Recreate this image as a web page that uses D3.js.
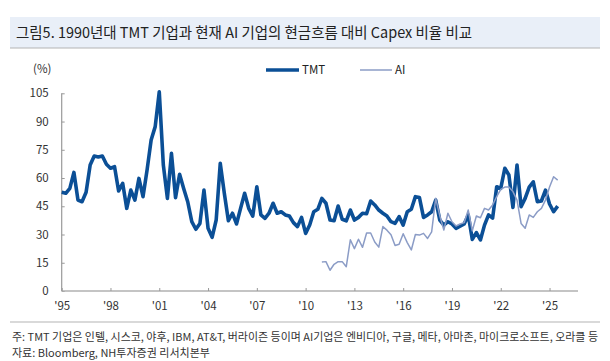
<!DOCTYPE html>
<html><head><meta charset="utf-8">
<script src="https://cdn.jsdelivr.net/npm/d3@7"></script>
<style>
body{margin:0;background:#fff;}
svg{display:block;}
</style></head>
<body>
<svg id="c" width="610" height="361"></svg>
<script>
const title = "그림5. 1990년대 TMT 기업과 현재 AI 기업의 현금흐름 대비 Capex 비율 비교";
const unitLabel = "(%)";
const seriesNames = ["TMT", "AI"];
const yTicks = [0, 15, 30, 45, 60, 75, 90, 105];
const xTickLabels = ["'95","'98","'01","'04","'07","'10","'13","'16","'19","'22","'25"];
const tmtStart = "1995Q1";
const aiStart = "2011Q1";
// quarterly values, TMT 1995Q1 - 2025Q3
const tmtValues = [
 52.4, 51.9, 54.5, 63.0,
 48.3, 47.4, 52.4, 66.9,
 71.7, 71.2, 71.7, 67.3,
 65.2, 66.0, 53.1, 57.2,
 43.9, 53.6, 48.3, 59.8,
 50.1, 64.3, 80.2, 87.3,
 105.8, 66.9, 49.2, 73.1,
 49.6, 62.0, 54.5, 47.4,
 36.8, 32.8, 35.9, 53.6,
 33.3, 28.5, 37.7, 67.8,
 51.9, 37.3, 41.3, 35.6,
 43.9, 51.9, 43.9, 39.8,
 55.4, 40.4, 38.6, 41.3,
 46.6, 41.3, 42.1, 40.4,
 39.8, 36.3, 34.2, 39.1,
 30.6, 35.1, 42.1, 43.4,
 49.2, 46.6, 37.7, 37.3,
 45.1, 38.1, 37.3, 43.0,
 37.7, 39.1, 41.3, 41.0,
 47.8, 45.7, 43.0, 41.3,
 39.8, 36.8, 35.9, 39.5,
 35.0, 42.1, 43.4, 50.1,
 49.6, 39.1, 40.4, 42.1,
 48.3, 37.7, 35.0, 36.8,
 35.6, 33.3, 34.4, 35.6,
 40.4, 27.4, 31.0, 27.1,
 35.0, 40.4, 38.7, 55.4,
 54.5, 65.2, 61.6, 44.4,
 66.9, 44.8, 49.2, 55.2,
 58.0, 47.4, 47.8, 53.6,
 46.2, 42.1, 45.1
];
// quarterly values, AI 2011Q1 - 2025Q3
const aiValues = [
 15.4, 15.6, 11.0, 14.2,
 15.6, 15.6, 12.9, 27.2,
 22.5, 27.5, 23.2, 30.8,
 30.8, 26.0, 23.3, 34.2,
 32.3, 29.9, 24.2, 24.8,
 30.4, 25.7, 21.8, 30.0,
 29.7, 30.6, 27.9, 31.4,
 49.2, 40.0, 32.4, 41.3,
 36.8, 34.5, 35.6, 36.3,
 43.0, 32.0, 39.8, 38.9,
 43.9, 43.0, 45.7, 50.1,
 54.0, 55.2, 55.2, 52.8,
 48.3, 35.9, 33.3, 40.4,
 39.1, 42.1, 43.9, 48.3,
 55.2, 60.7, 58.9
];
const note = "주: TMT 기업은 인텔, 시스코, 야후, IBM, AT&T, 버라이즌 등이며 AI기업은 엔비디아, 구글, 메타, 아마존, 마이크로소프트, 오라클 등";
const source = "자료: Bloomberg, NH투자증권 리서치본부";

const colors = {TMT: "#0b4f96", AI: "#8b9cc6"};
const svg = d3.select("#c");
const FONT = "'Liberation Sans Narrow','Noto Sans CJK KR',sans-serif";
const KFONT = "'Noto Sans CJK KR',sans-serif";

function qIndex(s){ const y=+s.slice(0,4), q=+s.slice(5); return (y-1995)*4 + (q-1); }

// title bar
svg.append("rect").attr("x",10).attr("y",17).attr("width",590).attr("height",31).attr("fill","#e9eff8");
svg.append("line").attr("x1",10).attr("x2",600).attr("y1",48).attr("y2",48).attr("stroke","#b4b4b4").attr("stroke-width",1.2);
svg.append("text").attr("x",16).attr("y",38).attr("font-family",KFONT).attr("font-size",15)
  .attr("fill","#222").attr("textLength",456).attr("lengthAdjust","spacingAndGlyphs").text(title);

const x = d3.scaleLinear().domain([0,127]).range([61.7,578]);
const y = d3.scaleLinear().domain([0,105]).range([291,93.3]);

// axes
const yAxis = d3.axisLeft(y).tickValues(yTicks).tickSize(-3).tickPadding(13);
const gy = svg.append("g").attr("transform","translate(61.7,0)").call(yAxis);
gy.select(".domain").attr("stroke","#999").attr("stroke-width",1.2).attr("d","M0,"+y(0)+"V"+y(105));
gy.selectAll(".tick line").attr("stroke","#999");
gy.selectAll(".tick text").attr("font-family",FONT).attr("font-size",11.5).attr("fill","#333");

const xTickIdx = xTickLabels.map((d,i)=>i*12);
const xAxis = d3.axisBottom(x).tickValues(xTickIdx).tickFormat((d,i)=>xTickLabels[i]).tickSize(-3).tickPadding(11);
const gx = svg.append("g").attr("transform","translate(0,"+y(0)+")").call(xAxis);
gx.select(".domain").attr("stroke","#b0b0b0").attr("stroke-width",1.6).attr("d","M61.7,0H578");
gx.selectAll(".tick line").attr("stroke","#999");
gx.selectAll(".tick text").attr("font-family",FONT).attr("font-size",11.5).attr("fill","#333");

svg.append("text").attr("x",33).attr("y",73).attr("font-family",FONT).attr("font-size",11.5).attr("fill","#333").text(unitLabel);

// lines
const line = d3.line().x(d=>x(d.i)).y(d=>y(d.v));
const aiData = aiValues.map((v,k)=>({i:qIndex(aiStart)+k, v}));
const tmtData = tmtValues.map((v,k)=>({i:qIndex(tmtStart)+k, v}));
svg.append("path").datum(tmtData).attr("d",line).attr("fill","none").attr("stroke",colors.TMT).attr("stroke-width",3.6).attr("stroke-linejoin","round");
svg.append("path").datum(aiData).attr("d",line).attr("fill","none").attr("stroke",colors.AI).attr("stroke-width",1.5).attr("stroke-linejoin","round");

// legend
const leg = [{n:"TMT",x1:266,x2:299,w:3.4},{n:"AI",x1:360,x2:392,w:1.5}];
leg.forEach(l=>{
  svg.append("line").attr("x1",l.x1).attr("x2",l.x2).attr("y1",70).attr("y2",70).attr("stroke",colors[l.n]).attr("stroke-width",l.w);
  svg.append("text").attr("x",l.x2+3).attr("y",74).attr("font-family",FONT).attr("font-size",11.5).attr("fill","#222").text(l.n);
});

// footer
svg.append("line").attr("x1",10).attr("x2",600).attr("y1",322).attr("y2",322).attr("stroke","#b4b4b4").attr("stroke-width",1.2);
svg.append("text").attr("x",12).attr("y",341).attr("font-family",KFONT).attr("font-size",11).attr("fill","#333")
  .attr("textLength",586).attr("lengthAdjust","spacingAndGlyphs").text(note);
svg.append("text").attr("x",12).attr("y",357).attr("font-family",KFONT).attr("font-size",11).attr("fill","#333").text(source);
</script>
</body></html>
